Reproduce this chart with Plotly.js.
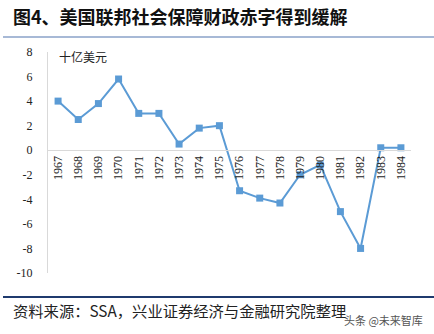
<!DOCTYPE html>
<html>
<head>
<meta charset="utf-8">
<script src="https://cdn.plot.ly/plotly-3.0.1.min.js"></script>
<style>
html,body{margin:0;padding:0;background:#fff;}
#chart{width:434px;height:334px;}
</style>
</head>
<body>
<div id="chart"></div>
<script>
var years = [1967,1968,1969,1970,1971,1972,1973,1974,1975,1976,1977,1978,1979,1980,1981,1982,1983,1984];
var deficit = [4.0,2.5,3.8,5.8,3.0,3.0,0.5,1.8,2.0,-3.3,-3.9,-4.3,-2.0,-1.2,-5.0,-8.0,0.2,0.2];
var yTicks = [8,6,4,2,0,-2,-4,-6,-8,-10];
var titleText = "图4、美国联邦社会保障财政赤字得到缓解";
var unitText = "十亿美元";
var sourceText = "资料来源：SSA，兴业证券经济与金融研究院整理";
var watermarkText = "头条 @未来智库";

var W = 434, H = 334;
var mL = 48, mR = 23, mT = 52, mB = 61;
var pw = W - mL - mR, ph = H - mT - mB;
function px(x){ return (x - mL) / pw; }
function py(y){ return (H - mB - y) / ph; }

var trace = {
  x: years,
  y: deficit,
  type: 'scatter',
  mode: 'lines+markers',
  line: {color: '#5B9BD5', width: 2},
  marker: {symbol: 'square', size: 7, color: '#5B9BD5'},
  hoverinfo: 'none'
};

var layout = {
  width: W, height: H,
  margin: {l: mL, r: mR, t: mT, b: mB, pad: 0},
  paper_bgcolor: '#fff', plot_bgcolor: '#fff',
  showlegend: false,
  xaxis: {
    range: [1966.5, 1984.5],
    tickmode: 'array',
    tickvals: years,
    ticktext: years.map(String),
    tickangle: -90,
    anchor: 'free',
    position: 10/18,
    showline: true, linecolor: '#d9d9d9', linewidth: 1,
    showgrid: false, zeroline: false,
    ticks: '',
    tickfont: {family: 'Liberation Serif', size: 12, color: '#222'},
    fixedrange: true
  },
  yaxis: {
    range: [-10, 8],
    tickmode: 'array',
    tickvals: yTicks,
    ticktext: yTicks.map(String),
    showline: true, linecolor: '#d9d9d9', linewidth: 1,
    showgrid: false, zeroline: false,
    ticks: '',
    ticklabelstandoff: 12,
    tickfont: {family: 'Liberation Serif', size: 12, color: '#222'},
    fixedrange: true
  },
  shapes: [
    {type: 'line', xref: 'paper', yref: 'paper', x0: px(3), x1: px(434), y0: py(37), y1: py(37),
     line: {color: '#8aa2c8', width: 1.5}},
    {type: 'line', xref: 'paper', yref: 'paper', x0: px(3), x1: px(434), y0: py(297), y1: py(297),
     line: {color: '#1f3a6e', width: 2}}
  ],
  annotations: [
    {text: '<b>' + titleText + '</b>', xref: 'paper', yref: 'paper', x: px(11), y: py(16),
     xanchor: 'left', yanchor: 'middle', showarrow: false,
     font: {family: 'Noto Sans CJK SC', size: 18, color: '#111'}},
    {text: unitText, xref: 'paper', yref: 'paper', x: px(57), y: py(56),
     xanchor: 'left', yanchor: 'middle', showarrow: false,
     font: {family: 'Noto Sans CJK SC', size: 12, color: '#222'}},
    {text: sourceText, xref: 'paper', yref: 'paper', x: px(11), y: py(310),
     xanchor: 'left', yanchor: 'middle', showarrow: false,
     font: {family: 'Noto Sans CJK SC', size: 15.3, color: '#222'}},
    {text: watermarkText, xref: 'paper', yref: 'paper', x: px(342), y: py(320),
     xanchor: 'left', yanchor: 'middle', showarrow: false,
     font: {family: 'Noto Sans CJK SC', size: 11, color: '#555'}}
  ]
};

Plotly.newPlot('chart', [trace], layout, {staticPlot: true, displayModeBar: false});
</script>
</body>
</html>
